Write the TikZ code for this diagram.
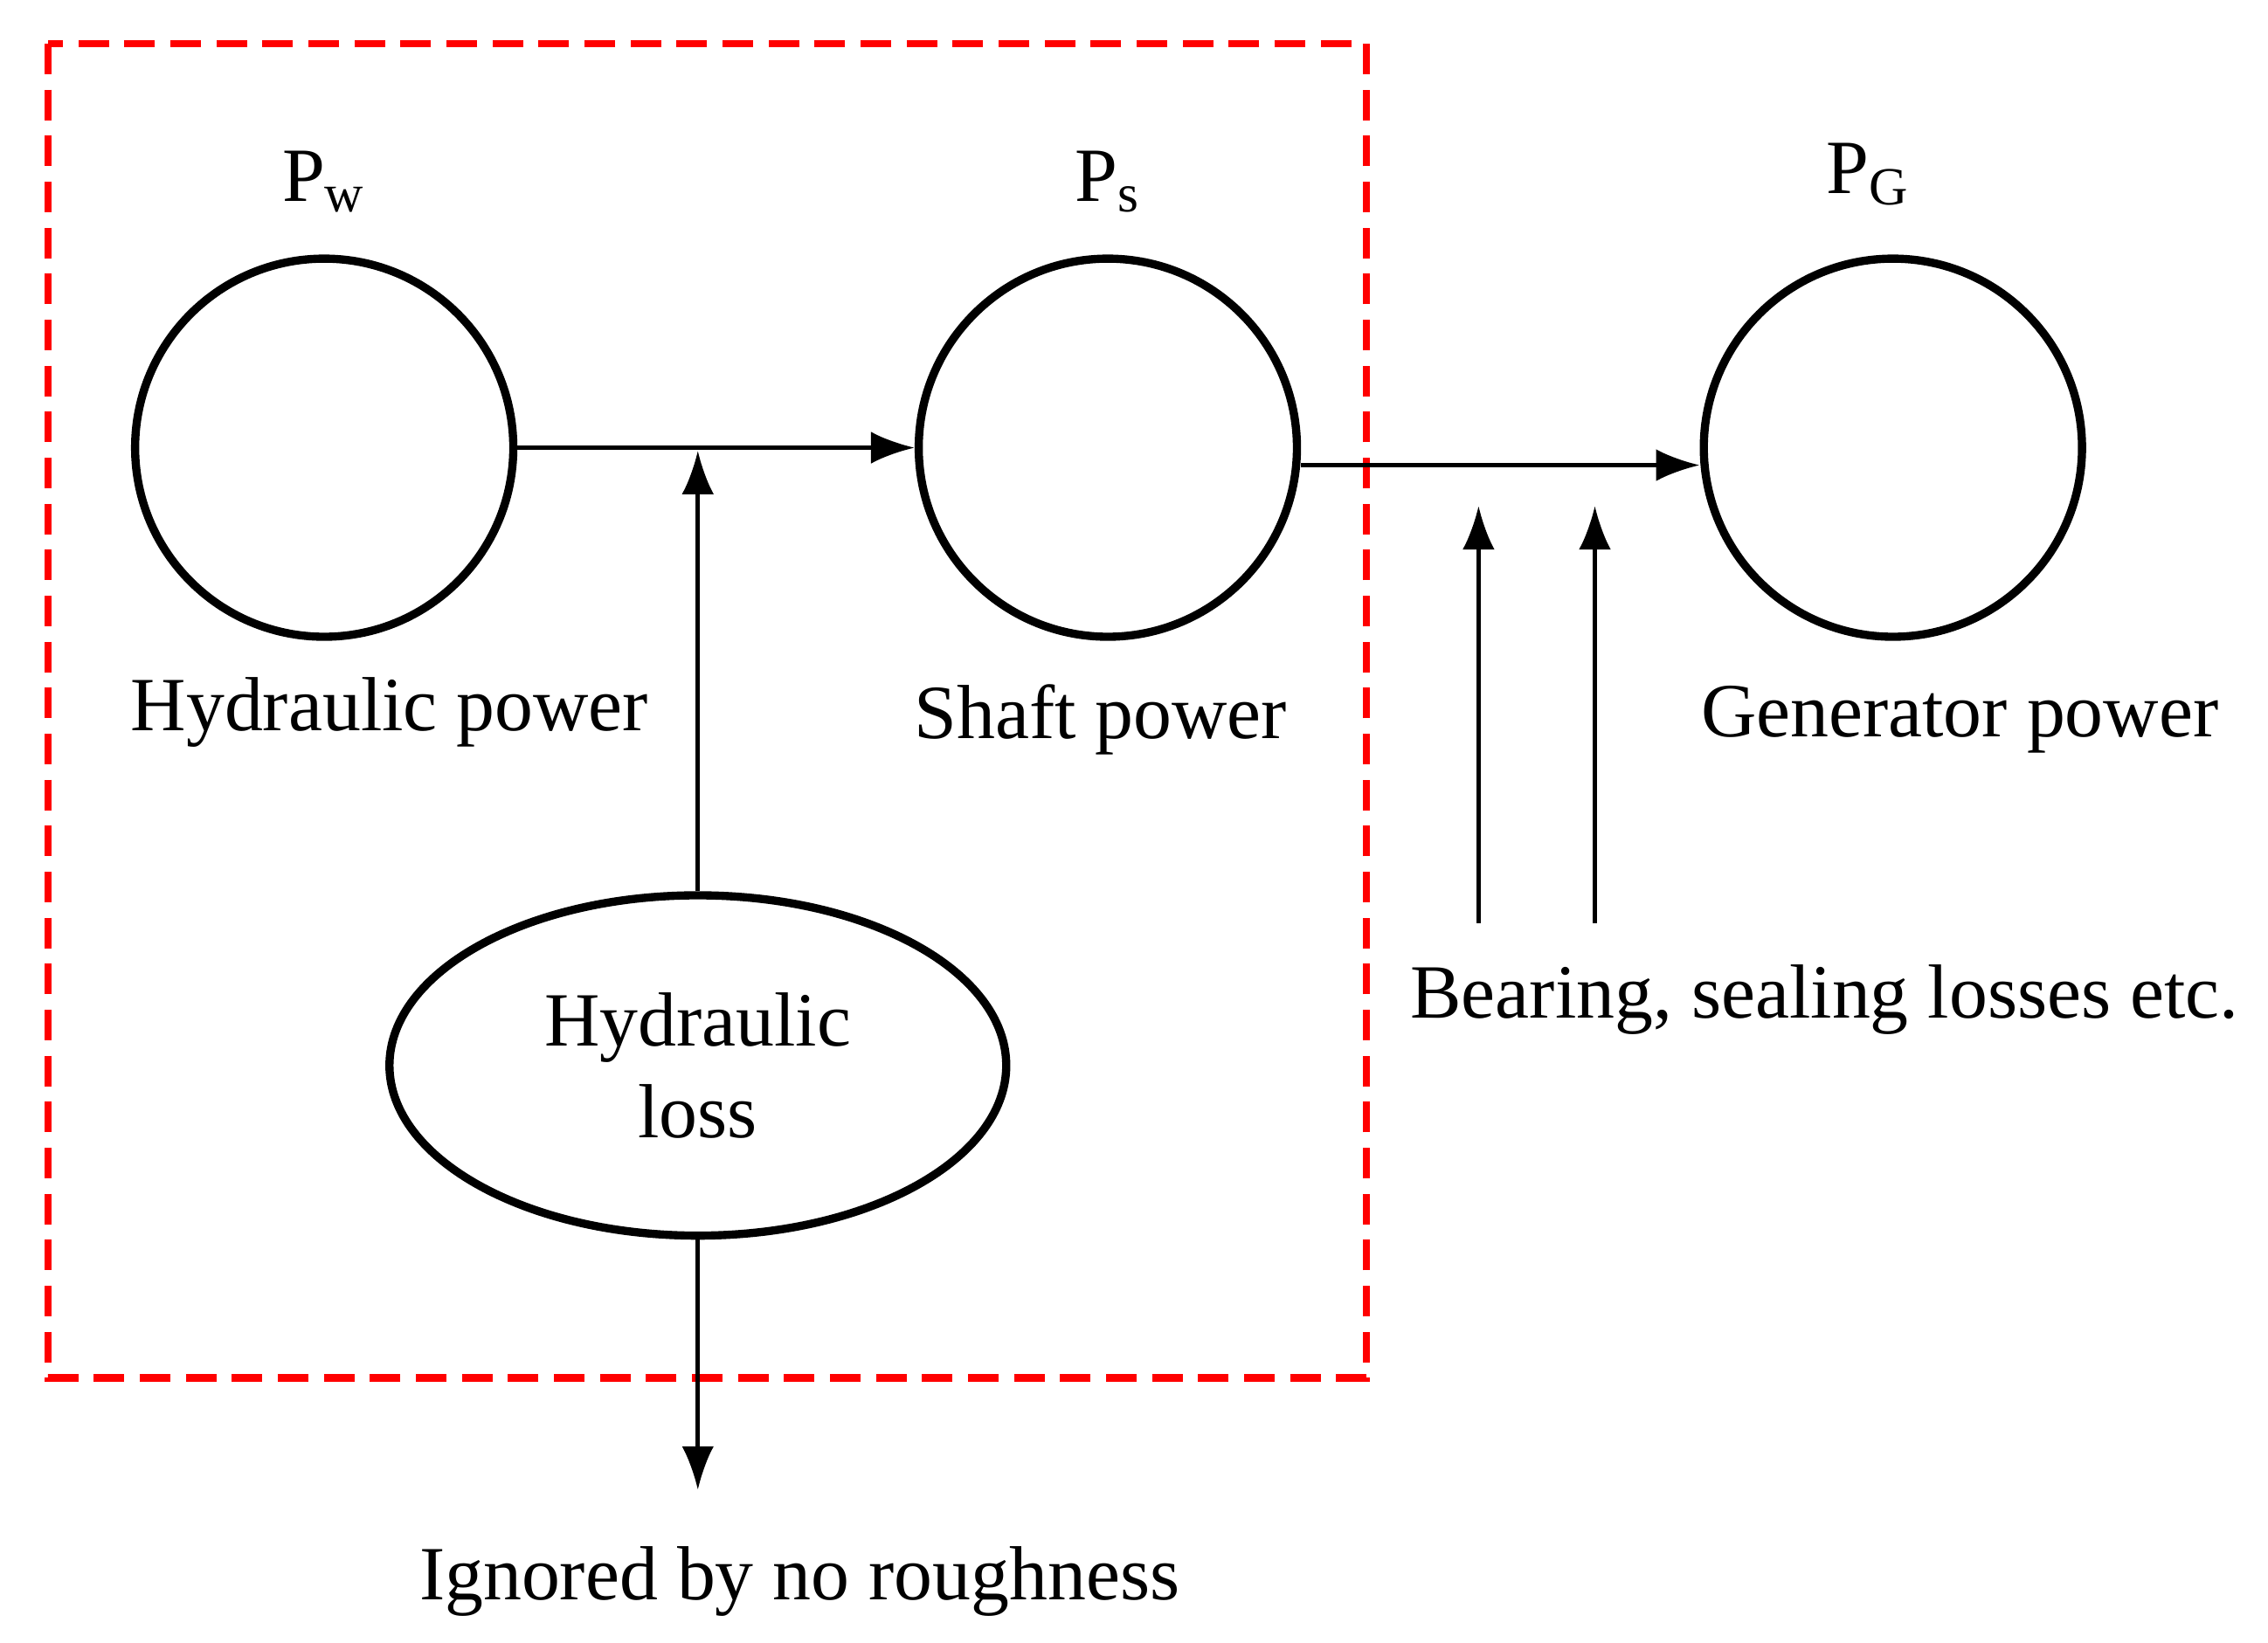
\documentclass[tikz,border=0pt]{standalone}
\usepackage{fontspec}
\setmainfont{Liberation Serif}
\usetikzlibrary{arrows.meta, shapes.geometric}
\begin{document}
\begin{tikzpicture}[x=0.01cm, y=-0.01cm,
    pw/.style={circle, draw, line width=1.6pt, minimum size=2.6cm, inner sep=0pt},
    lbl/.style={font=\fontsize{15}{18}\selectfont, align=center},
    arr/.style={-{Latex[length=3mm,width=2.2mm]}, line width=0.8pt}
  ]
  \useasboundingbox (0,0) rectangle (1560,1130);
  % dashed boundary
  \draw[red, dashed, line width=1.4pt, dash pattern=on 6pt off 3pt] (33,30) rectangle (940,948);

  % power circles
  \node[pw] (w) at (223,308) {};
  \node[pw] (s) at (762,308) {};
  \node[pw] (g) at (1302,308) {};
  \node[lbl] (pwl) at (223,125) {P\textsubscript{w}};
  \node[lbl] (psl) at (762,125) {P\textsubscript{s}};
  \node[lbl] (pgl) at (1285,120) {P\textsubscript{G}};
  \node[lbl] (wt) at (268,490) {Hydraulic power};
  \node[lbl] (st) at (757,495) {Shaft power};
  \node[lbl] (gt) at (1348,495) {Generator power};

  % hydraulic loss
  \node[ellipse, draw, line width=1.6pt, minimum width=4.24cm, minimum height=2.34cm, lbl] (loss) at (480,733) {Hydraulic\\loss};
  \node[lbl] (ign) at (550,1088) {Ignored by no roughness};
  \node[lbl] (bear) at (1255,688) {Bearing, sealing losses etc.};

  \coordinate (j1) at (480,310);
  \coordinate (down) at (480,1025);
  \coordinate (b1s) at (1017,635);
  \coordinate (b1e) at (1017,348);
  \coordinate (b2s) at (1097,635);
  \coordinate (b2e) at (1097,348);

  % connectors
  \draw[arr] (w.east) -- (s.west);
  \draw[arr] (loss.north) -- (j1);
  \draw[arr] (loss.south) -- (down);
  \draw[arr] ([yshift=-0.12cm]s.east) -- ([yshift=-0.12cm]g.west);
  \draw[arr] (b1s) -- (b1e);
  \draw[arr] (b2s) -- (b2e);
\end{tikzpicture}
\end{document}
